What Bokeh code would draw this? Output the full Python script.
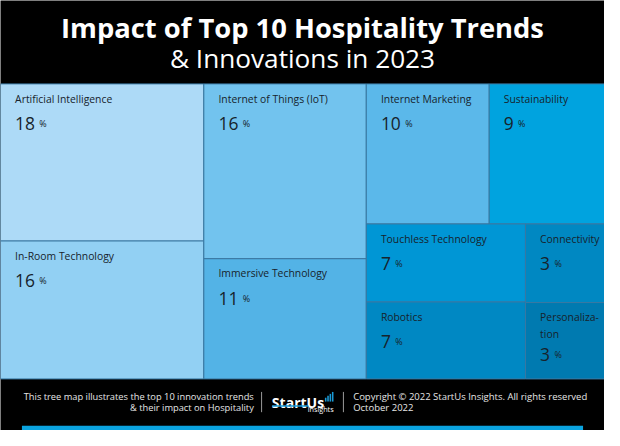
from bokeh.plotting import figure
from bokeh.models import Range1d, ColumnDataSource
from bokeh.embed import file_html
from bokeh.resources import INLINE
from bokeh.core.properties import value

# ---------------- data ----------------
trend_names = ["Artificial Intelligence", "In-Room Technology", "Internet of Things (IoT)",
               "Immersive Technology", "Internet Marketing", "Sustainability",
               "Touchless Technology", "Robotics", "Connectivity", "Personalization"]
display_names = ["Artificial Intelligence", "In-Room Technology", "Internet of Things (IoT)",
                 "Immersive Technology", "Internet Marketing", "Sustainability",
                 "Touchless Technology", "Robotics", "Connectivity", "Personaliza-\ntion"]
impact_labels = [18, 16, 16, 11, 10, 9, 7, 7, 3, 3]
area_weights = [18.0, 15.8, 16.0, 11.0, 9.7, 9.1, 7.0, 6.9, 3.5, 3.4]
cell_colors = ["#ADDAF7", "#92D0F3", "#72C3EE", "#53B3E6", "#5BB8EA",
               "#00A3DF", "#0096D5", "#0088C3", "#0088C2", "#007AB0"]

title_1 = "Impact of Top 10 Hospitality Trends"
title_2 = "& Innovations in 2023"
footer_left = ["This tree map illustrates the top 10 innovation trends", "& their impact on Hospitality"]
footer_right = ["Copyright \u00a9 2022 StartUs Insights. All rights reserved", "October 2022"]

# nesting of the treemap (slice-and-dice structure)
LAYOUT = ("h", [("v", [0, 1]), ("v", [2, 3]),
                ("v", [("h", [4, 5]), ("h", [("v", [6, 7]), ("v", [8, 9])])])])


def total(node):
    if isinstance(node, int):
        return area_weights[node]
    return sum(total(k) for k in node[1])


def place(node, x0, y0, x1, y1, out):
    if isinstance(node, int):
        out[node] = (x0, y0, x1, y1)
        return
    d, kids = node
    T = total(node)
    pos = x0 if d == "h" else y0
    for k in kids:
        f = total(k) / T
        if d == "h":
            nx = pos + (x1 - x0) * f
            place(k, pos, y0, nx, y1, out)
            pos = nx
        else:
            ny = pos + (y1 - y0) * f
            place(k, x0, pos, x1, ny, out)
            pos = ny


rects = {}
place(LAYOUT, 0.0, 86.5, 620.0, 392.5, rects)
n = len(trend_names)
L = [rects[i][0] for i in range(n)]
T = [rects[i][1] for i in range(n)]
R = [rects[i][2] for i in range(n)]
B = [rects[i][3] for i in range(n)]
nlines = [s.count("\n") + 1 for s in display_names]

src = ColumnDataSource(dict(
    left=L, right=R, top=T, bottom=B, color=cell_colors,
    lx=[l + 15 for l in L], ly=[t + 8 for t in T], label=display_names,
    ny=[t + 41 + 13 * (k - 1) for t, k in zip(T, nlines)],
    num=[str(v) for v in impact_labels],
    px=[l + 15 + 10.2 * len(str(v)) + 4.5 for l, v in zip(L, impact_labels)],
    pct=["%"] * n,
))

# ---------------- figure ----------------
W, H = 604, 430
S = 0.97  # font scale (page is drawn slightly smaller than the 620x446 reference)


def fs(px):
    return "%.2fpx" % (px * S)


p = figure(width=W, height=H, x_range=Range1d(0, 620), y_range=Range1d(446, 0),
           output_backend="svg", toolbar_location=None, min_border=0)
p.axis.visible = False
p.grid.visible = False
p.outline_line_color = None
p.background_fill_color = "black"
p.border_fill_color = "black"

p.quad(left="left", right="right", top="top", bottom="bottom", source=src,
       fill_color="color", line_color="#3A78A2", line_width=1)

F = value("Open Sans")
p.text(x="lx", y="ly", text="label", source=src, text_font=F, text_font_size=fs(10.7),
       text_color="#17232c", text_baseline="top", text_align="left")
p.text(x="lx", y="ny", text="num", source=src, text_font=F, text_font_size=fs(18),
       text_color="#17232c", text_baseline="alphabetic", text_align="left")
p.text(x="px", y="ny", text="pct", source=src, text_font=F, text_font_size=fs(9.2),
       text_color="#17232c", text_baseline="alphabetic", text_align="left")

# title
p.text(x=[310], y=[28], text=[title_1], text_font=F, text_font_style="bold",
       text_font_size=fs(28.2), text_color="white", text_align="center", text_baseline="middle")
p.text(x=[310], y=[59.5], text=[title_2], text_font=F, text_font_size=fs(27),
       text_color="white", text_align="center", text_baseline="middle")

# footer
p.text(x=[260, 260], y=[411, 422.5], text=footer_left, text_font=F, text_font_size=fs(9.6),
       text_color="#e6e6e6", text_align="right", text_baseline="middle")
p.text(x=[362, 362], y=[411, 422.5], text=footer_right, text_font=F, text_font_size=fs(9.8),
       text_color="#e6e6e6", text_align="left", text_baseline="middle")
p.segment(x0=[268, 352], y0=[406, 406], x1=[268, 352], y1=[427, 427],
          line_color="#9a9a9a", line_width=1)

# logo
p.text(x=[278.5], y=[417], text=["StartUs"], text_font=F, text_font_style="bold",
       text_font_size=fs(14.5), text_color="white", text_align="left", text_baseline="alphabetic")
bar_h = [4, 6, 8, 10]
p.quad(left=[333 + 2.4 * i for i in range(4)], right=[334.6 + 2.4 * i for i in range(4)],
       top=[416 - h for h in bar_h], bottom=[416] * 4, fill_color="#1A9AD6", line_color=None)
p.segment(x0=[279], y0=[420.5], x1=[316], y1=[420.5], line_color="#1A9AD6", line_width=1.5)
p.text(x=[342], y=[423.5], text=["insights"], text_font=F, text_font_size=fs(7.5),
       text_color="white", text_align="right", text_baseline="middle")

# bottom accent bar
p.quad(left=[22], right=[598], top=[441], bottom=[450], fill_color="#0AA3DF", line_color=None)

open("out.html", "w").write(file_html(p, INLINE))
